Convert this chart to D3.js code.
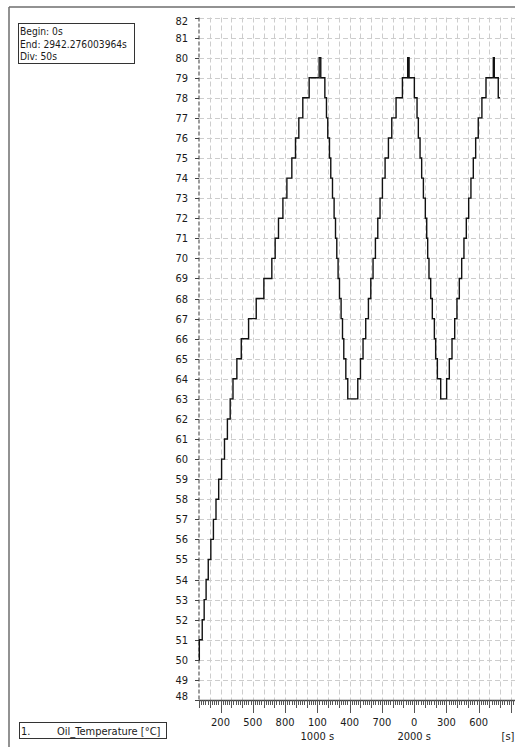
<!DOCTYPE html>
<html>
<head>
<meta charset="utf-8">
<script src="https://cdn.jsdelivr.net/npm/d3@7"></script>
<style>
  body { margin: 0; background: #fff; }
  text { font-family: Tahoma, "DejaVu Sans Condensed", "Liberation Sans", sans-serif; font-size: 11px; fill: #1a1a1a; }
</style>
</head>
<body>
<div id="chart"></div>
<script>
// time (s) at which the temperature changes, and the new value
var changeTimes = [0, 3, 30, 48, 66, 86, 110, 134, 158, 183, 210, 237, 264, 290, 316, 352, 393, 461, 532, 603,
    677, 708, 739, 780, 817, 863, 897, 928, 965, 1024, 1117, 1132, 1170,
    1185, 1197, 1213, 1225, 1241, 1256, 1269, 1281, 1293, 1306, 1321, 1334, 1346, 1365, 1383, 1476,
    1501, 1525, 1550, 1575, 1597, 1618, 1640, 1662, 1683, 1705, 1730, 1761, 1792, 1832, 1891, 1940, 1953, 2002,
    2027, 2039, 2055, 2070, 2086, 2104, 2117, 2126, 2138, 2154, 2169, 2188, 2200, 2216, 2247, 2302,
    2327, 2352, 2377, 2398, 2420, 2442, 2463, 2485, 2507, 2528, 2550, 2572, 2596, 2630, 2668, 2736, 2745, 2782, 2798];
var temperatures = [50, 51, 52, 53, 54, 55, 56, 57, 58, 59, 60, 61, 62, 63, 64, 65, 66, 67, 68, 69,
    70, 71, 72, 73, 74, 75, 76, 77, 78, 79, 80, 79, 78,
    77, 76, 75, 74, 73, 72, 71, 70, 69, 68, 67, 66, 65, 64, 63, 64,
    65, 66, 67, 68, 69, 70, 71, 72, 73, 74, 75, 76, 77, 78, 79, 80, 79, 78,
    77, 76, 75, 74, 73, 72, 71, 70, 69, 68, 67, 66, 65, 64, 63, 64,
    65, 66, 67, 68, 69, 70, 71, 72, 73, 74, 75, 76, 77, 78, 79, 80, 79, 78, 78];

var yTicks = d3.range(48, 83);
var xLabelTicks = [200, 500, 800, 1100, 1400, 1700, 2000, 2300, 2600];
var infoLines = ["Begin: 0s", "End: 2942.276003964s", "Div: 50s"];
var seriesName = "Oil_Temperature [°C]";
var tEnd = 2942.276003964;

var width = 515, height = 747;
var svg = d3.select("#chart").append("svg")
    .attr("width", width)
    .attr("height", height);

// scales
var x = d3.scaleLinear().domain([0, tEnd]).range([199, 515.5]);
var y = d3.scaleLinear().domain([48, 82]).range([700, 17.5]);

// outer frame (top + left edge)
svg.append("line").attr("x1", 9).attr("x2", width).attr("y1", 7).attr("y2", 7)
    .attr("stroke", "#6e6e6e").attr("stroke-width", 1.5);
svg.append("line").attr("x1", 9).attr("x2", 9).attr("y1", 7).attr("y2", height)
    .attr("stroke", "#6e6e6e").attr("stroke-width", 1.5);

// grid
var grid = svg.append("g").attr("stroke", "#cdcdcd").attr("stroke-width", 1)
    .attr("stroke-dasharray", "5,3");
grid.selectAll("line.h").data(yTicks.slice(1)).enter().append("line")
    .attr("x1", x(0)).attr("x2", width)
    .attr("y1", function(d) { return Math.round(y(d)) + 0.5; })
    .attr("y2", function(d) { return Math.round(y(d)) + 0.5; });
grid.selectAll("line.v").data(d3.range(100, tEnd, 100)).enter().append("line")
    .attr("y1", y(82)).attr("y2", y(48))
    .attr("x1", function(d) { return Math.round(x(d)) + 0.5; })
    .attr("x2", function(d) { return Math.round(x(d)) + 0.5; });

// y axis
svg.append("line").attr("x1", x(0)).attr("x2", x(0)).attr("y1", y(82)).attr("y2", y(48))
    .attr("stroke", "#5a5a5a").attr("stroke-width", 1.2).attr("stroke-dasharray", "4,2");
var yAxis = svg.append("g");
yAxis.selectAll("line").data(yTicks).enter().append("line")
    .attr("x1", x(0) - 4).attr("x2", x(0))
    .attr("y1", function(d) { return Math.round(y(d)) + 0.5; })
    .attr("y2", function(d) { return Math.round(y(d)) + 0.5; })
    .attr("stroke", "#444");
yAxis.selectAll("text").data(yTicks).enter().append("text")
    .attr("x", 188)
    .attr("y", function(d) {
        var off = 4;
        if (d === 82) off = 7;
        if (d === 48) off = 0;
        return y(d) + off;
    })
    .attr("text-anchor", "end")
    .text(function(d) { return d; });

// x axis
svg.append("line").attr("x1", x(0)).attr("x2", width).attr("y1", 700.5).attr("y2", 700.5)
    .attr("stroke", "#444").attr("stroke-width", 1.5);
var xAxis = svg.append("g").attr("stroke", "#555");
xAxis.selectAll("line").data(d3.range(0, tEnd, 20)).enter().append("line")
    .attr("x1", function(d) { return Math.round(x(d)) + 0.5; })
    .attr("x2", function(d) { return Math.round(x(d)) + 0.5; })
    .attr("y1", 700)
    .attr("y2", function(d) {
        if (d % 300 === 200) return 713;
        if (d % 100 === 0) return 708;
        return 705;
    });
svg.selectAll("text.xl").data(xLabelTicks).enter().append("text")
    .attr("x", function(d) { return x(d); })
    .attr("y", 726)
    .attr("text-anchor", "middle")
    .text(function(d) { return d % 1000; });
// thousands row under the first label of each new thousand
var thousands = xLabelTicks.filter(function(d, i) {
    return i > 0 && Math.floor(d / 1000) > Math.floor(xLabelTicks[i - 1] / 1000);
});
svg.selectAll("text.xt").data(thousands).enter().append("text")
    .attr("x", function(d) { return x(d); })
    .attr("y", 740)
    .attr("text-anchor", "middle")
    .text(function(d) { return Math.floor(d / 1000) * 1000 + " s"; });
svg.append("text").attr("x", 508).attr("y", 740).attr("text-anchor", "middle").text("[s]");

// step line
var pts = changeTimes.map(function(t, i) { return [t, temperatures[i]]; });
var line = d3.line()
    .x(function(d) { return x(d[0]); })
    .y(function(d) { return y(d[1]); })
    .curve(d3.curveStepAfter);
svg.append("path").datum(pts)
    .attr("d", line)
    .attr("fill", "none")
    .attr("stroke", "#111")
    .attr("stroke-width", 1.4);

// info box
svg.append("rect").attr("x", 18.5).attr("y", 23.5).attr("width", 116).attr("height", 40)
    .attr("fill", "#fff").attr("stroke", "#333");
svg.selectAll("text.info").data(infoLines).enter().append("text")
    .attr("x", 20)
    .attr("y", function(d, i) { return 35 + i * 12.5; })
    .style("font-size", "10.2px")
    .text(function(d) { return d; });

// legend
svg.append("rect").attr("x", 19.5).attr("y", 722.5).attr("width", 147).attr("height", 16)
    .attr("fill", "#fff").attr("stroke", "#333");
svg.append("text").attr("x", 21).attr("y", 735).text("1.");
svg.append("text").attr("x", 57).attr("y", 735).text(seriesName);
</script>
</body>
</html>
